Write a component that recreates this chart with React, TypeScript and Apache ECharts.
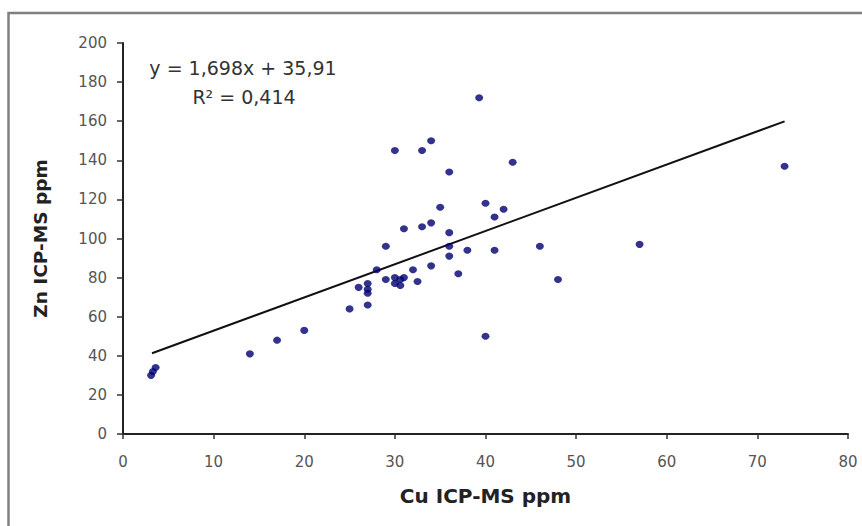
import React, { useEffect, useRef } from "react";
import * as echarts from "echarts";

// Cu ICP-MS ppm (x) and Zn ICP-MS ppm (y)
const cuValues = [3.1, 3.3, 3.6, 14, 17, 20, 25, 26, 27, 27, 27, 27, 28, 29, 29, 30, 30.6, 30, 30.6, 31, 31, 30, 32, 32.5, 33, 33, 34, 34, 34, 35, 36, 36, 36, 36, 37, 38, 39.3, 40, 40, 41, 41, 42, 43, 46, 48, 57, 73];
const znValues = [30, 32, 34, 41, 48, 53, 64, 75, 77, 74, 72, 66, 84, 79, 96, 80, 79, 77, 76, 80, 105, 145, 84, 78, 145, 106, 150, 108, 86, 116, 134, 103, 96, 91, 82, 94, 172, 118, 50, 111, 94, 115, 139, 96, 79, 97, 137];

// Linear trend line endpoints (y = 1,698x + 35,91)
const trendX = [3.2, 73];
const trendY = [41.3, 159.9];

const xTicks = { min: 0, max: 80, interval: 10 };
const yTicks = { min: 0, max: 200, interval: 20 };

const equationText = "y = 1,698x + 35,91";
const r2Text = "R² = 0,414";
const xTitle = "Cu ICP-MS ppm";
const yTitle = "Zn ICP-MS ppm";

export default function App() {
  const ref = useRef<HTMLDivElement>(null);
  useEffect(() => {
    if (!ref.current) return;
    const chart = echarts.init(ref.current, undefined, { renderer: "svg" });
    const points = cuValues.map((x, i) => [x, znValues[i]]);
    const trend = trendX.map((x, i) => [x, trendY[i]]);
    const labelFont = "DejaVu Sans";
    chart.setOption({
      animation: false,
      backgroundColor: "#ffffff",
      grid: { left: 123, right: 14, top: 43, bottom: 92, containLabel: false },
      xAxis: {
        type: "value",
        min: xTicks.min,
        max: xTicks.max,
        interval: xTicks.interval,
        name: xTitle,
        nameLocation: "middle",
        nameGap: 52,
        nameTextStyle: { fontFamily: labelFont, fontWeight: "bold", fontSize: 20, color: "#222" },
        axisLine: { show: true, onZero: false, lineStyle: { color: "#222", width: 2 } },
        axisTick: { show: true, inside: false, length: 5, lineStyle: { color: "#333", width: 1.5 } },
        axisLabel: { margin: 20, fontFamily: labelFont, fontSize: 15, color: "#555" },
        splitLine: { show: false },
      },
      yAxis: {
        type: "value",
        min: yTicks.min,
        max: yTicks.max,
        interval: yTicks.interval,
        name: yTitle,
        nameLocation: "middle",
        nameRotate: 90,
        nameGap: 73,
        nameTextStyle: { fontFamily: labelFont, fontWeight: "bold", fontSize: 18.5, color: "#222" },
        axisLine: { show: true, onZero: false, lineStyle: { color: "#222", width: 2 } },
        axisTick: { show: true, inside: false, length: 6, lineStyle: { color: "#333", width: 1.5 } },
        axisLabel: { margin: 16, fontFamily: labelFont, fontSize: 15, color: "#555" },
        splitLine: { show: false },
      },
      graphic: [
        {
          type: "rect",
          silent: true,
          z: -1,
          shape: { x: 8.5, y: 13, width: 1000, height: 1000 },
          style: { fill: "none", stroke: "#808080", lineWidth: 2.5 },
        },
        {
          type: "text",
          x: 243,
          y: 67.5,
          style: {
            text: equationText,
            fontFamily: labelFont,
            fontSize: 19,
            fill: "#333",
            align: "center",
            verticalAlign: "middle",
          },
        },
        {
          type: "text",
          x: 244,
          y: 97,
          style: {
            text: r2Text,
            fontFamily: labelFont,
            fontSize: 19,
            fill: "#333",
            align: "center",
            verticalAlign: "middle",
          },
        },
      ],
      series: [
        {
          name: "Zn vs Cu",
          type: "scatter",
          data: points,
          symbol: "circle",
          symbolSize: [8, 7],
          itemStyle: { color: "#000070" },
          z: 3,
        },
        {
          name: "Trend",
          type: "line",
          data: trend,
          symbol: "none",
          lineStyle: { color: "#111", width: 2 },
          z: 2,
        },
      ],
    });
    return () => chart.dispose();
  }, []);
  return (
    <div
      ref={ref}
      style={{ position: "absolute", left: 0, top: 0, width: 862, height: 526 }}
    />
  );
}
